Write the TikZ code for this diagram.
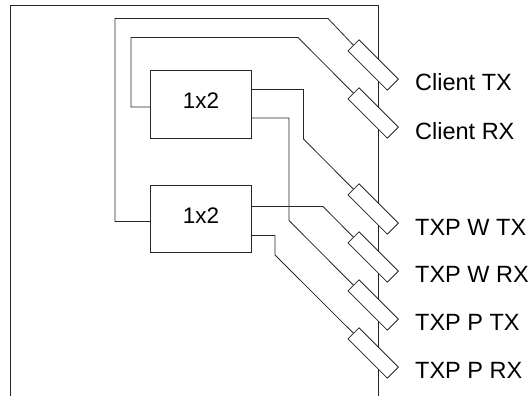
\documentclass[tikz,border=0pt]{standalone}
\usepackage{fontspec}
\setmainfont{Liberation Sans}
\tikzset{
  wire/.style={draw=black!85, line width=0.8pt},
  splitter/.style={draw=black!85, line width=0.8pt, fill=white, minimum width=101pt, minimum height=67.5pt, inner sep=0pt, text height=16.5pt, text depth=8pt, font=\fontsize{22.5}{26}\selectfont},
  port/.style={draw=black!85, line width=0.8pt, fill=white, minimum width=55.6pt, minimum height=15.6pt, inner sep=0pt, rotate=-45},
  portlabel/.style={anchor=base west, inner sep=0pt, font=\fontsize{23.5}{27}\selectfont}
}
\begin{document}
\begin{tikzpicture}[x=1pt, y=-1pt]

\useasboundingbox (0,0) rectangle (532,396);

% Draw the card outline
\draw[wire] (10,396) -- (10,5) -- (378,5) -- (378,396);

% Define the splitters
\node[splitter] (S1) at (201,104.3) {1x2};
\node[splitter] (S2) at (201,218.9) {1x2};

% Define the ports
\node[port] (CTX) at (373.2,65) {};
\node[port] (CRX) at (373.2,113) {};
\node[port] (WTX) at (373.2,209) {};
\node[port] (WRX) at (373.2,257) {};
\node[port] (PTX) at (373.2,305) {};
\node[port] (PRX) at (373.2,353) {};

% Add the port labels
\node[portlabel] (LCTX) at (415,90) {Client TX};
\node[portlabel] (LCRX) at (415,139) {Client RX};
\node[portlabel] (LWTX) at (415,235) {TXP W TX};
\node[portlabel] (LWRX) at (415,282.7) {TXP W RX};
\node[portlabel] (LPTX) at (415,330) {TXP P TX};
\node[portlabel] (LPRX) at (415,378.3) {TXP P RX};

% Connect the splitters to the client ports
\draw[wire] (S2.west |- 0,221.5) -- (115,221.5) -- (115,18.5) -- (328,18.5) -- (CTX.west);
\draw[wire] (S1.west |- 0,107) -- (131,107) -- (131,37.5) -- (298,37.5) -- (CRX.west);

% Connect the splitters to the line ports
\draw[wire] (S1.east |- 0,89.5) -- (303.5,89.5) -- (303.5,139) -- (WTX.west);
\draw[wire] (S1.east |- 0,118) -- (289,118) -- (289,220.5) -- (PTX.west);
\draw[wire] (S2.east |- 0,206.5) -- (323,206.5) -- (WRX.west);
\draw[wire] (S2.east |- 0,235.5) -- (275,235.5) -- (275,255) -- (PRX.west);

\end{tikzpicture}
\end{document}
